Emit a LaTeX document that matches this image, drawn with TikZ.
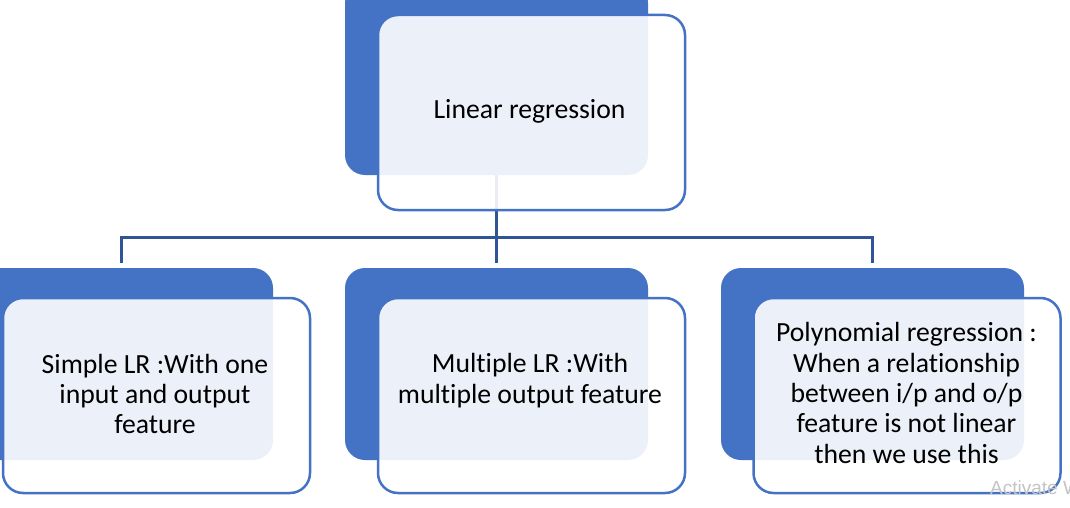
\documentclass[tikz,border=0pt]{standalone}
\usepackage{fontspec}
\setmainfont{Carlito}[Ligatures={NoCommon}]
\newfontfamily\wmfont{Liberation Sans}
\definecolor{accent}{HTML}{4472C4}
\definecolor{connc}{HTML}{2F5597}
\definecolor{wmark}{HTML}{C4C4C4}
\begin{document}
\begin{tikzpicture}[x=1pt,y=-1pt,
  backbox/.style={fill=accent, rounded corners=20pt, inner sep=0pt,
    minimum width=303pt, minimum height=192pt},
  frontbox/.style={draw=accent, line width=2.5pt, fill=white, fill opacity=0.9,
    rounded corners=20pt, inner sep=0pt, minimum width=307pt, minimum height=195pt},
  conn/.style={draw=connc, line width=3pt},
  label/.style={anchor=base, inner sep=0pt, text=black,
    font=\fontsize{27.7}{30.4}\selectfont},
  wm/.style={anchor=base west, inner sep=0pt, text=wmark,
    font=\wmfont\fontsize{19}{23}\selectfont}]
\clip (0,0) rectangle (1070,508);
\fill[white] (0,0) rectangle (1070,508);
% back rectangles
\node[backbox] (topback) at (496.5,79) {};
\node[backbox] (leftback) at (121.5,364) {};
\node[backbox] (midback) at (496.5,364) {};
\node[backbox] (rightback) at (872.5,364) {};
% connectors
\coordinate (jn) at (496.5,237.5);
\draw[conn, shorten >=5pt] (topback.south) -- (midback.north);
\draw[conn, shorten <=5pt, shorten >=5pt] (leftback.north) |- (jn) -| (rightback.north);
% front boxes
\node[frontbox] (topfront) at (531.5,112.5) {};
\node[frontbox] (leftfront) at (156.5,395.5) {};
\node[frontbox] (midfront) at (531.5,395.5) {};
\node[frontbox] (rightfront) at (907,395.5) {};
% texts
\node[label] (toptext) at (529.5,118) {Linear regression};
\node[label] (lefttext) at (155,373) {\begin{tabular}[t]{@{}c@{}}Simple LR :With one\\ input and output\\ feature\end{tabular}};
\node[label] (midtext) at (530,372.7) {\begin{tabular}[t]{@{}c@{}}Multiple LR :With\\ multiple output feature\end{tabular}};
\node[label] (righttext) at (906.5,341.7) {\begin{tabular}[t]{@{}c@{}}Polynomial regression :\\ When a relationship\\ between i/p and o/p\\ feature is not linear\\ then we use this\end{tabular}};
\node[wm] (wmtext) at (990,494) {Activate Windows};
\end{tikzpicture}
\end{document}
